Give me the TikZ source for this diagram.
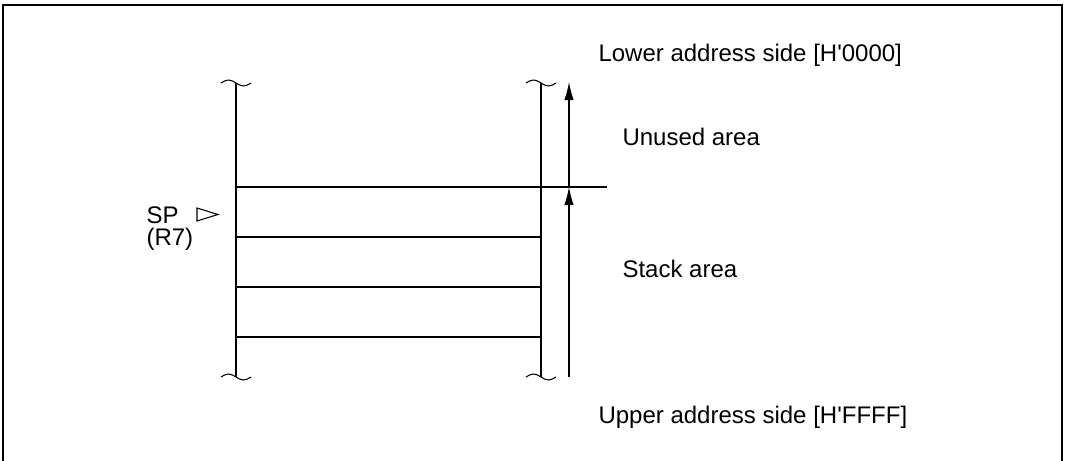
\documentclass[tikz,border=0pt]{standalone}
\usepackage{fontspec}
\setmainfont{Liberation Sans}
\usetikzlibrary{arrows.meta}

\begin{document}
\begin{tikzpicture}[x=0.75pt,y=-0.75pt,line width=0.8pt,
    lbl/.style={anchor=base west,inner sep=0pt,font=\fontsize{18}{21}\selectfont},
    brk/.pic={\draw (-15,0) sin (-7.5,-3) cos (0,0) sin (7.5,3) cos (15,0);},
    up/.style={-{Latex[length=13.5pt,width=7pt]}}]
  \useasboundingbox (0,0) rectangle (1065,461);
  % frame
  \draw[line width=1.5pt] (3,461) |- (1062,5) -- (1062,461);
  % memory edges
  \coordinate (lt) at (236,83);
  \coordinate (lb) at (236,377);
  \coordinate (rt) at (541,83);
  \coordinate (rb) at (541,377);
  \draw (lt) -- (lb);
  \draw (rt) -- (rb);
  \foreach \p in {lt,lb,rt,rb}
    \pic at (\p) {brk};
  % rows
  \coordinate (s0) at (236,187);
  \coordinate (e0) at (607,187);
  \draw (s0) -- (e0);
  \foreach \y [count=\i] in {237,287,337} {
    \coordinate (s\i) at (236,\y);
    \coordinate (e\i) at (541,\y);
    \draw (s\i) -- (e\i);
  }
  % arrows
  \coordinate (a0) at (569,377);
  \coordinate (a1) at (569,187);
  \coordinate (a2) at (569,82);
  \draw[up] (a1) -- (a2);
  \draw[up] (a0) -- (a1);
  % labels
  \node[lbl] (lower) at (598,61) {Lower address side [H\textquotesingle 0000]};
  \node[lbl] (unused) at (622,145) {Unused area};
  \node[lbl] (stack) at (622,277) {Stack area};
  \node[lbl] (upper) at (598,423) {Upper address side [H\textquotesingle FFFF]};
  \node[lbl] (sp) at (146,223) {SP};
  \node[lbl] (r7) at (146,245) {(R7)};
  % pointer
  \coordinate (tri) at (197,214.5);
  \draw[line join=miter] (tri) ++(0,-6.5) -- ++(21,6.5) -- ++(-21,6.5) -- cycle;
\end{tikzpicture}
\end{document}
